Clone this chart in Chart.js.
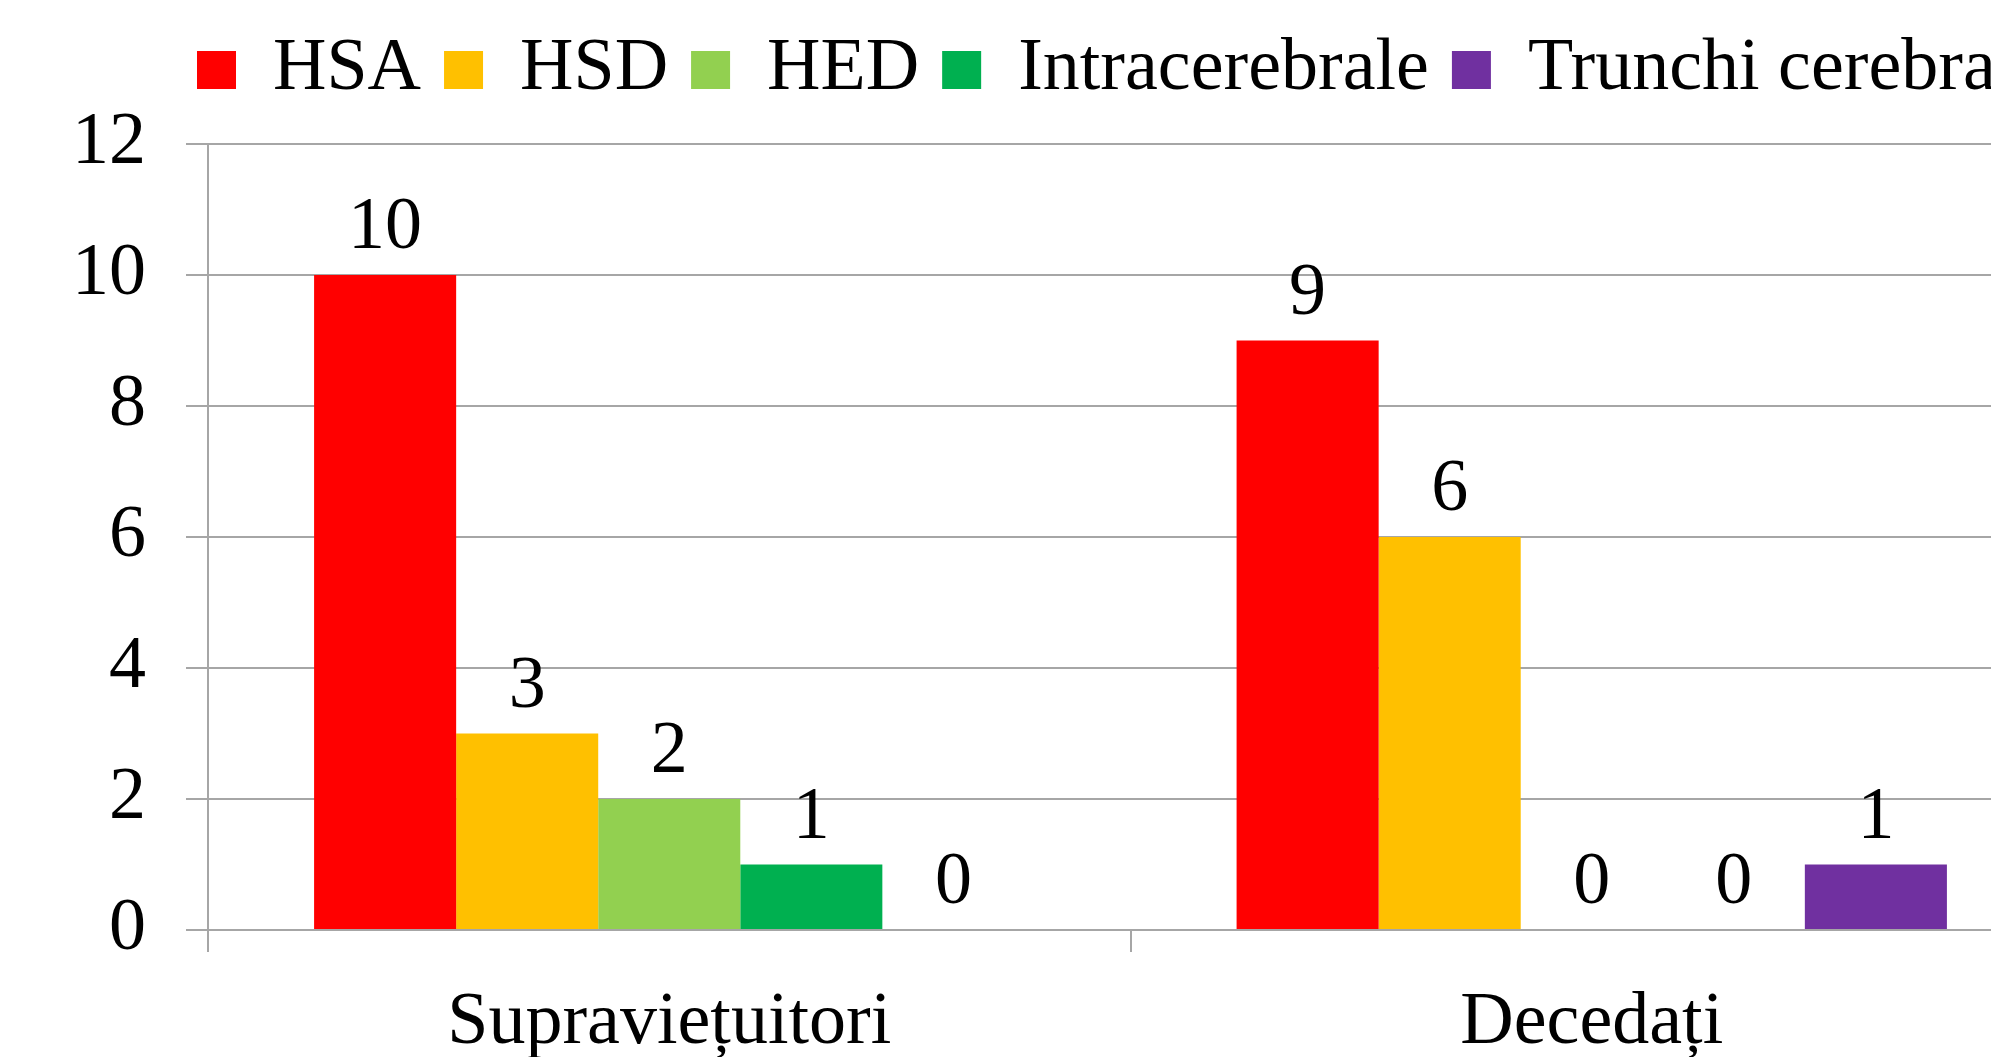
<!DOCTYPE html>
<html>
<head>
<meta charset="utf-8">
<script src="https://cdn.jsdelivr.net/npm/chart.js@4.4.0/dist/chart.umd.min.js"></script>
<style>
  html, body { margin: 0; padding: 0; background: #fff; overflow: hidden; }
  #wrap { width: 1991px; height: 1057px; overflow: hidden; }
</style>
</head>
<body>
<div id="wrap"><canvas id="chart" width="2053" height="1057"></canvas></div>
<script>
// Hemoragii: supravietuitori vs decedati
const categories = ['Supraviețuitori', 'Decedați'];
const seriesNames = ['HSA', 'HSD', 'HED', 'Intracerebrale', 'Trunchi cerebral'];
const seriesColors = ['#ff0000', '#ffc000', '#92d050', '#00b050', '#7030a0'];
const hsa = [10, 9];
const hsd = [3, 6];
const hed = [2, 0];
const intracerebrale = [1, 0];
const trunchi = [0, 1];
const yTicks = [0, 2, 4, 6, 8, 10, 12];

const seriesValues = [hsa, hsd, hed, intracerebrale, trunchi];
const FONT = "'Liberation Serif', 'Times New Roman', serif";
const gridColor = '#a6a6a6';

// data labels above each bar
const barLabels = {
  id: 'barLabels',
  afterDatasetsDraw(chart) {
    const ctx = chart.ctx;
    ctx.save();
    ctx.font = '74px ' + FONT;
    ctx.fillStyle = '#000';
    ctx.textAlign = 'center';
    ctx.textBaseline = 'alphabetic';
    chart.data.datasets.forEach((ds, i) => {
      chart.getDatasetMeta(i).data.forEach((bar, j) => {
        ctx.fillText(String(ds.data[j]), bar.x, bar.y - 27);
      });
    });
    ctx.restore();
  }
};

// extra room under the legend, and legend lined up with the axis
const legendTweak = {
  id: 'legendTweak',
  beforeInit(chart) {
    const origFit = chart.legend.fit;
    chart.legend.fit = function () {
      origFit.bind(chart.legend)();
      this.height += 27;
    };
  },
  afterLayout(chart) {
    const lg = chart.legend;
    const dx = 174 - lg.left;
    lg.left += dx;
    lg.right += dx;
  }
};

new Chart(document.getElementById('chart').getContext('2d'), {
  type: 'bar',
  data: {
    labels: categories,
    datasets: seriesNames.map((name, i) => ({
      label: name,
      data: seriesValues[i],
      backgroundColor: seriesColors[i],
      borderWidth: 0,
      categoryPercentage: 0.77,
      barPercentage: 1
    }))
  },
  options: {
    responsive: false,
    animation: false,
    layout: { padding: { left: 32, top: 10, right: 0, bottom: 0 } },
    scales: {
      x: {
        grid: { display: true, drawOnChartArea: false, color: gridColor, lineWidth: 2, tickLength: 22 },
        border: { color: gridColor, width: 2 },
        ticks: { color: '#000', font: { family: FONT, size: 74 }, padding: 27, maxRotation: 0 },
        afterFit(scale) { scale.height = 127; }
      },
      y: {
        min: yTicks[0],
        max: yTicks[yTicks.length - 1],
        grid: { color: gridColor, lineWidth: 2, tickLength: 22 },
        border: { color: gridColor, width: 2 },
        ticks: {
          color: '#000',
          font: { family: FONT, size: 74 },
          padding: 40,
          stepSize: yTicks[1] - yTicks[0],
          autoSkip: false
        }
      }
    },
    plugins: {
      legend: {
        position: 'top',
        align: 'start',
        labels: {
          color: '#000',
          font: { family: FONT, size: 74 },
          boxWidth: 39,
          boxHeight: 38,
          padding: 23
        }
      },
      tooltip: { enabled: false }
    }
  },
  plugins: [barLabels, legendTweak]
});
</script>
</body>
</html>
